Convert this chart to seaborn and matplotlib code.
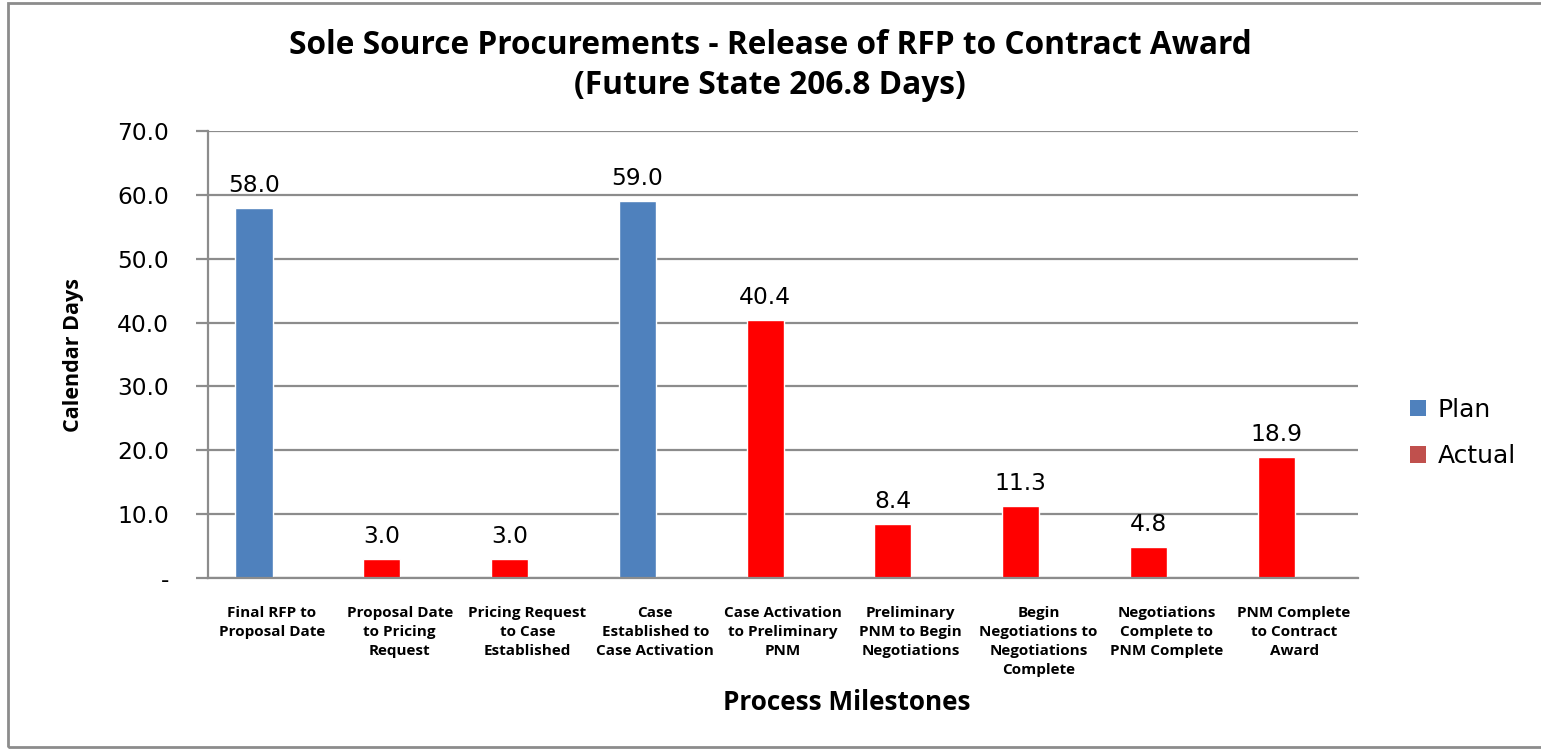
import matplotlib
matplotlib.use("Agg")
import matplotlib.pyplot as plt
import seaborn as sns
import pandas as pd
from matplotlib.patches import Patch, Rectangle

categories = [
    "Final RFP to\nProposal Date",
    "Proposal Date\nto Pricing\nRequest",
    "Pricing Request\nto Case\nEstablished",
    "Case\nEstablished to\nCase Activation",
    "Case Activation\nto Preliminary\nPNM",
    "Preliminary\nPNM to Begin\nNegotiations",
    "Begin\nNegotiations to\nNegotiations\nComplete",
    "Negotiations\nComplete to\nPNM Complete",
    "PNM Complete\nto Contract\nAward",
]
values = [58.0, 3.0, 3.0, 59.0, 40.4, 8.4, 11.3, 4.8, 18.9]
series = ["Plan", "Actual", "Actual", "Plan", "Actual", "Actual", "Actual", "Actual", "Actual"]
yticks = [0, 10, 20, 30, 40, 50, 60, 70]
ytick_labels = ["-", "10.0", "20.0", "30.0", "40.0", "50.0", "60.0", "70.0"]

bar_colors = {"Plan": "#4F81BD", "Actual": "#FF0000"}
legend_colors = {"Plan": "#4F81BD", "Actual": "#C0504D"}

df = pd.DataFrame({"cat": categories, "val": values, "series": series})

sns.set_theme(style="white")
opens = ["Open Sans", "DejaVu Sans"]
plt.rcParams["font.family"] = ["DejaVu Sans"]
plt.rcParams["text.color"] = "black"

W, H = 1541, 755
fig = plt.figure(figsize=(W / 100, H / 100), dpi=100)
ax = fig.add_axes([208 / W, 1 - 578 / H, (1358 - 208) / W, (578 - 131) / H])

sns.barplot(data=df, x="cat", y="val", hue="series", palette=bar_colors,
            dodge=False, width=0.29, ax=ax, legend=False, saturation=1)

shift = 0.14  # bars sit left of the category centre (empty second cluster slot)
ax.set_xlim(-0.5 + shift, len(categories) - 0.5 + shift)
ax.set_ylim(0, 70)
ax.set_yticks(yticks)
ax.set_yticklabels(ytick_labels, fontsize=16.8, color="black")
ax.yaxis.grid(True, color="#8c8c8c", linewidth=1.6)
ax.set_axisbelow(True)
for s in ["top", "right"]:
    ax.spines[s].set_visible(False)
for s in ["left", "bottom"]:
    ax.spines[s].set_color("#8c8c8c")
    ax.spines[s].set_linewidth(1.6)
ax.tick_params(axis="y", length=9, width=1.6, color="#8c8c8c", pad=19, left=True)
ax.tick_params(axis="x", length=0, pad=20)

ax.set_xticks([i + shift for i in range(len(categories))])
ax.set_xticklabels(categories, fontsize=11, fontweight="bold", family=opens,
                   linespacing=1.45, va="top", color="black")

for i, v in enumerate(values):
    ax.text(i, v + 2.5, f"{v:.1f}", ha="center", va="baseline", fontsize=16.8, color="black")

ax.set_ylabel("Calendar Days", fontsize=15.5, fontweight="bold", family=opens, labelpad=24,
              color="black")
ax.set_xlabel("")
fig.text(847 / W, 1 - 703 / H, "Process Milestones", ha="center", va="center",
         fontsize=18.8, fontweight="bold", family=opens, color="black")

fig.text(770 / W, 1 - 46 / H, "Sole Source Procurements - Release of RFP to Contract Award",
         ha="center", va="center", fontsize=22.8, fontweight="bold", family=opens, color="black")
fig.text(770 / W, 1 - 85 / H, "(Future State 206.8 Days)",
         ha="center", va="center", fontsize=22.8, fontweight="bold", family=opens, color="black")

handles = [Patch(facecolor=legend_colors[k], edgecolor="none", label=k) for k in ["Plan", "Actual"]]
fig.legend(handles=handles, loc="center left", bbox_to_anchor=(1410 / W, 1 - 433 / H),
           frameon=False, fontsize=18, handlelength=0.65, handleheight=0.65,
           labelspacing=0.9, handletextpad=0.45, borderpad=0, borderaxespad=0,
           labelcolor="black")

fig.patches.append(Rectangle((8 / W, 8 / H), 1 - 8 / W + 0.01, 1 - 3 / H - 8 / H,
                             transform=fig.transFigure, fill=False, edgecolor="#8c8c8c",
                             linewidth=2, figure=fig))

fig.savefig("out.png", dpi=100, facecolor="white")
